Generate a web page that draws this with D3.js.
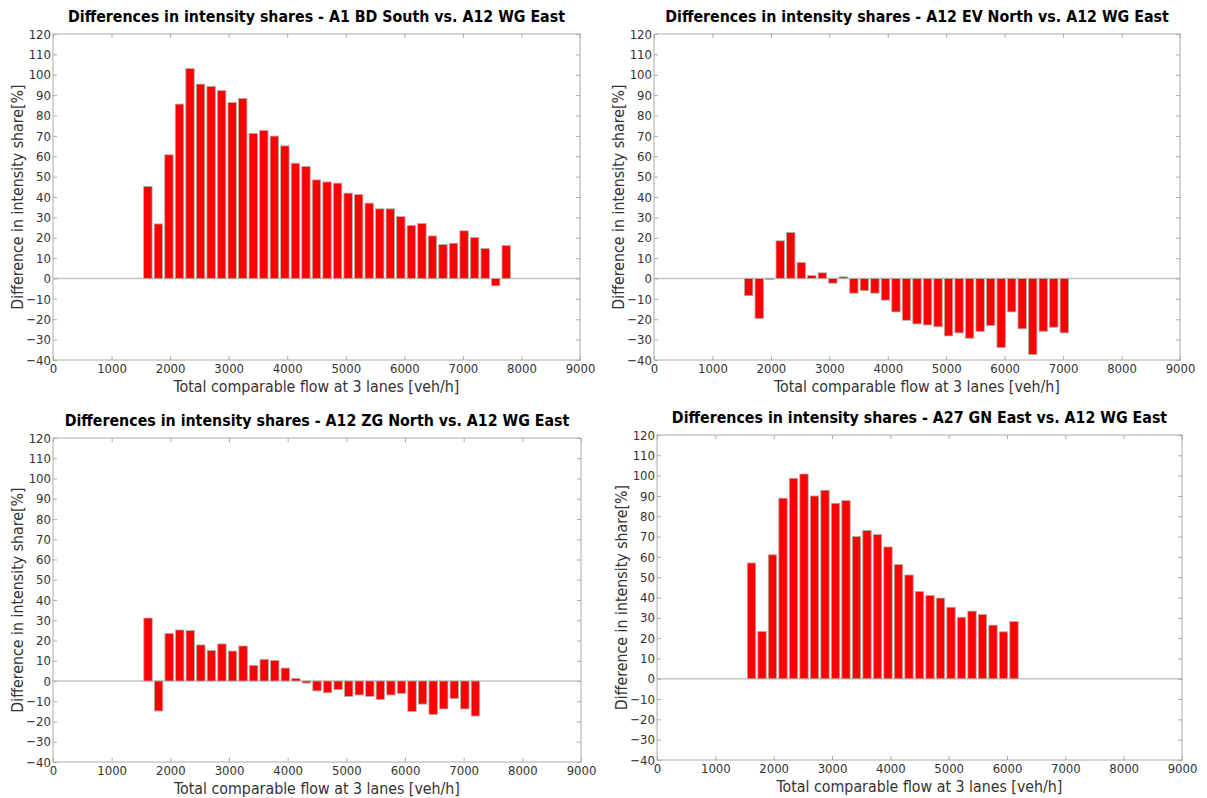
<!DOCTYPE html>
<html>
<head>
<meta charset="utf-8">
<script src="https://cdn.jsdelivr.net/npm/d3@7"></script>
<style>
  body { margin: 0; background: #fff; }
  svg text { font-family: "DejaVu Sans Condensed", "DejaVu Sans", sans-serif; }
</style>
</head>
<body>
<svg id="chart" width="1207" height="798"></svg>
<script>
// flow bins (bar centres, veh/h)
var flows = [1620, 1800, 1980, 2160, 2340, 2520, 2700, 2880, 3060, 3240, 3420, 3600,
  3780, 3960, 4140, 4320, 4500, 4680, 4860, 5040, 5220, 5400, 5580, 5760, 5940, 6120,
  6300, 6480, 6660, 6840, 7020, 7200, 7380, 7560, 7740];

var a1bdSouth = [45.2, 26.8, 60.7, 85.6, 103, 95.4, 94.3, 92.3, 86.4, 88.4, 71.2, 72.7,
  69.9, 65.1, 56.6, 55, 48.4, 47.4, 46.8, 41.9, 41.2, 37, 34.2, 34.2, 30.4, 26,
  27, 20.9, 16.7, 17.3, 23.4, 20.1, 14.7, -3.6, 16.2];

var a12evNorth = [-8.4, -19.6, -0.5, 18.5, 22.6, 7.9, 1.5, 2.8, -2.3, 0.8, -7.2, -5.9,
  -7.2, -10.6, -16.4, -20.5, -22.3, -22.8, -23.7, -28.2, -26.7, -29.3, -26, -23.1, -33.9, -16.4,
  -24.7, -37.3, -25.9, -23.9, -26.7];

var a12zgNorth = [31.1, -14.8, 23.5, 25.2, 24.9, 17.8, 15.1, 18.3, 14.8, 17.3, 7.7, 10.7,
  10.2, 6.4, 1.3, -1, -4.9, -5.8, -4.3, -7.6, -6.9, -7.6, -9.1, -6.9, -6.1, -15,
  -11.4, -16.5, -13.8, -8.7, -13.8, -17.3];

var a27gnEast = [57, 23.3, 61, 88.9, 98.7, 100.8, 90, 92.8, 86.4, 87.7, 70, 73,
  71, 64.9, 56.2, 51.1, 43, 41, 39.7, 35.2, 30.3, 33.3, 31.6, 26.4, 23.1, 28.2];

var xTicks = [0, 1000, 2000, 3000, 4000, 5000, 6000, 7000, 8000, 9000];
var yTicks = [-40, -30, -20, -10, 0, 10, 20, 30, 40, 50, 60, 70, 80, 90, 100, 110, 120];

var titles = [
  'Differences in intensity shares - A1 BD South vs. A12 WG East',
  'Differences in intensity shares - A12 EV North vs. A12 WG East',
  'Differences in intensity shares - A12 ZG North vs. A12 WG East',
  'Differences in intensity shares - A27 GN East vs. A12 WG East'
];
var series = [a1bdSouth, a12evNorth, a12zgNorth, a27gnEast];

// plot boxes
var boxes = [
  {left: 53, right: 580, top: 34, bottom: 360},
  {left: 654, right: 1180, top: 34, bottom: 360},
  {left: 53, right: 581, top: 438, bottom: 762},
  {left: 657, right: 1182, top: 435, bottom: 760}
];

var axisColor = '#ababab';
var svg = d3.select('#chart');

boxes.forEach(function (b, i) {
  var vals = series[i];
  var data = vals.map(function (v, j) { return {flow: flows[j], value: v}; });

  var x = d3.scaleLinear().domain([0, 9000]).range([b.left, b.right]);
  var y = d3.scaleLinear().domain([-40, 120]).range([b.bottom, b.top]);
  var barW = x(144) - x(0);

  var g = svg.append('g');

  // zero line
  g.append('line')
    .attr('x1', b.left).attr('x2', b.right)
    .attr('y1', y(0)).attr('y2', y(0))
    .attr('stroke', '#c4c4c4').attr('stroke-width', 1.5);

  g.selectAll('rect.bar').data(data).enter().append('rect')
    .attr('class', 'bar')
    .attr('x', function (d) { return x(d.flow) - barW / 2; })
    .attr('width', barW)
    .attr('y', function (d) { return y(Math.max(0, d.value)); })
    .attr('height', function (d) { return Math.abs(y(d.value) - y(0)); })
    .attr('fill', '#ff0000')
    .attr('stroke', '#b0b0b0')
    .attr('stroke-width', 0.8);

  var fmt = d3.format('d');
  var bottomAx = d3.axisBottom(x).tickValues(xTicks).tickFormat(fmt).tickSizeInner(-4).tickSizeOuter(0).tickPadding(4);
  var leftAx = d3.axisLeft(y).tickValues(yTicks).tickFormat(fmt).tickSizeInner(-4).tickSizeOuter(0).tickPadding(2);
  var topAx = d3.axisTop(x).tickValues(xTicks).tickSizeInner(-4).tickSizeOuter(0).tickFormat('');
  var rightAx = d3.axisRight(y).tickValues(yTicks).tickSizeInner(-4).tickSizeOuter(0).tickFormat('');

  var gb = g.append('g').attr('transform', 'translate(0,' + b.bottom + ')').call(bottomAx);
  var gl = g.append('g').attr('transform', 'translate(' + b.left + ',0)').call(leftAx);
  var gt = g.append('g').attr('transform', 'translate(0,' + b.top + ')').call(topAx);
  var gr = g.append('g').attr('transform', 'translate(' + b.right + ',0)').call(rightAx);

  [gb, gl, gt, gr].forEach(function (ax) {
    ax.select('.domain').remove();
    ax.selectAll('line').attr('stroke', axisColor);
    ax.selectAll('text')
      .style('font-family', '"DejaVu Sans Condensed", "DejaVu Sans", sans-serif')
      .style('font-size', '13px')
      .attr('fill', '#333');
  });

  // box
  g.append('rect')
    .attr('x', b.left).attr('y', b.top)
    .attr('width', b.right - b.left).attr('height', b.bottom - b.top)
    .attr('fill', 'none').attr('stroke', axisColor).attr('stroke-width', 1);

  g.append('text')
    .attr('x', (b.left + b.right) / 2).attr('y', b.top - 12)
    .attr('text-anchor', 'middle')
    .style('font-size', '15.8px').style('font-weight', 'bold')
    .attr('fill', '#000')
    .text(titles[i]);

  g.append('text')
    .attr('x', (b.left + b.right) / 2).attr('y', b.bottom + 32)
    .attr('text-anchor', 'middle')
    .style('font-size', '15.8px')
    .attr('fill', '#333')
    .text('Total comparable flow at 3 lanes [veh/h]');

  g.append('text')
    .attr('transform', 'translate(' + (b.left - 30) + ',' + ((b.top + b.bottom) / 2) + ') rotate(-90)')
    .attr('text-anchor', 'middle')
    .style('font-size', '15.8px')
    .attr('fill', '#333')
    .text('Difference in intensity share[%]');
});
</script>
</body>
</html>
